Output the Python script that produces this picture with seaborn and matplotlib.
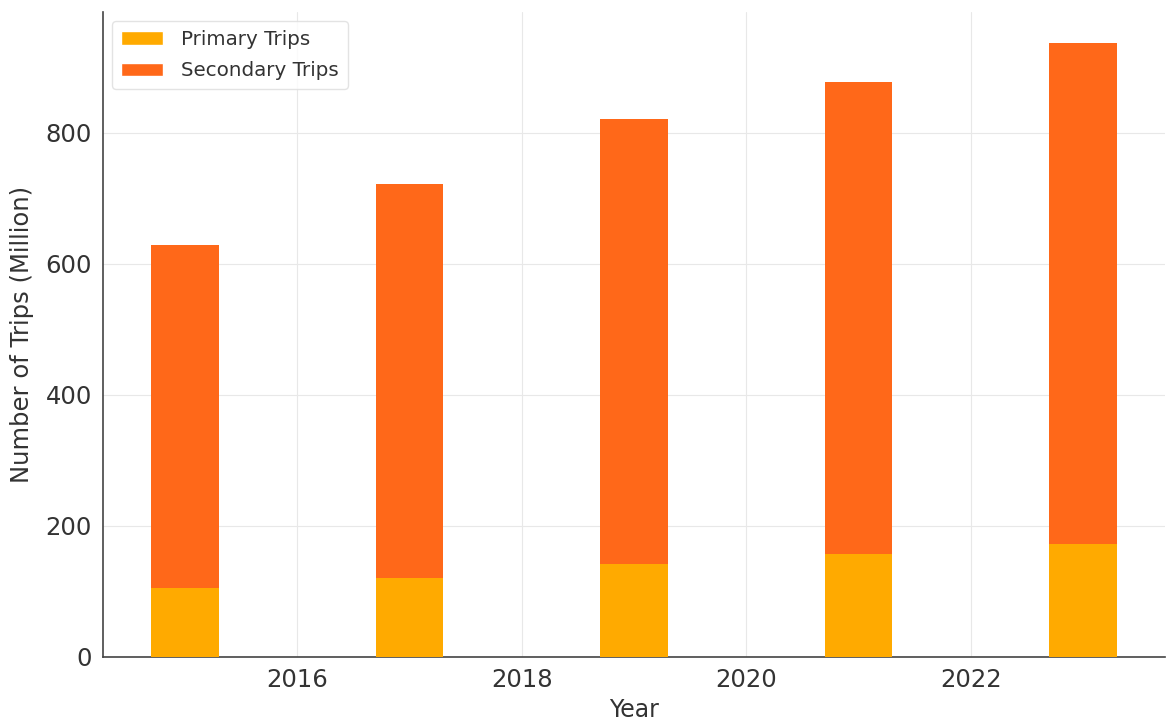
import matplotlib
matplotlib.use("Agg")
import matplotlib.pyplot as plt
import seaborn as sns
import pandas as pd
from matplotlib.patches import Patch

# Trip counts in millions
years = [2015, 2017, 2019, 2021, 2023]
primary_trips = [105, 121, 142, 157, 172]
secondary_trips = [523, 601, 678, 720, 765]
series_labels = ["Primary Trips", "Secondary Trips"]

primary_color = "#FFAA00"
secondary_color = "#FF6819"
text_color = "#333333"

df = pd.DataFrame({"Year": years, "Primary": primary_trips, "Secondary": secondary_trips})
df["Total"] = df["Primary"] + df["Secondary"]

sns.set_style("white")
plt.rcParams["font.family"] = ["DejaVu Sans"]

fig = plt.figure(figsize=(11.67, 7.2), dpi=100)
ax = fig.add_axes([0.0883, 0.0875, 0.9100, 0.8958])

# stacked bars: full height in the secondary colour, primary share drawn over the base
sns.barplot(data=df, x="Year", y="Total", native_scale=True, width=0.3,
            color=secondary_color, saturation=1, errorbar=None, ax=ax,
            linewidth=0, edgecolor="none", zorder=2)
sns.barplot(data=df, x="Year", y="Primary", native_scale=True, width=0.3,
            color=primary_color, saturation=1, errorbar=None, ax=ax,
            linewidth=0, edgecolor="none", zorder=3)

ax.set_xticks([2016, 2018, 2020, 2022])
ax.set_yticks([0, 200, 400, 600, 800])
ax.grid(True, color="#e8e8e8", linewidth=0.8, zorder=0)
ax.set_axisbelow(True)

for side in ["top", "right"]:
    ax.spines[side].set_visible(False)
for side in ["left", "bottom"]:
    ax.spines[side].set_color("#444444")
    ax.spines[side].set_linewidth(1.2)

ax.tick_params(axis="both", labelsize=17.5, colors=text_color, length=4, width=1, pad=4)
ax.set_xlabel("Year", fontsize=17, color=text_color, labelpad=4)
ax.set_ylabel("Number of Trips (Million)", fontsize=17.5, color=text_color, labelpad=8)

handles = [Patch(facecolor=primary_color, label=series_labels[0]),
           Patch(facecolor=secondary_color, label=series_labels[1])]
leg = ax.legend(handles=handles, loc="upper left", fontsize=14.3, frameon=True,
                borderaxespad=0.45, borderpad=0.45, labelspacing=0.62,
                handlelength=2.1, handleheight=0.65, handletextpad=0.95)
leg.get_frame().set_edgecolor("#dddddd")
for t in leg.get_texts():
    t.set_color(text_color)

fig.savefig("out.png", dpi=100)
